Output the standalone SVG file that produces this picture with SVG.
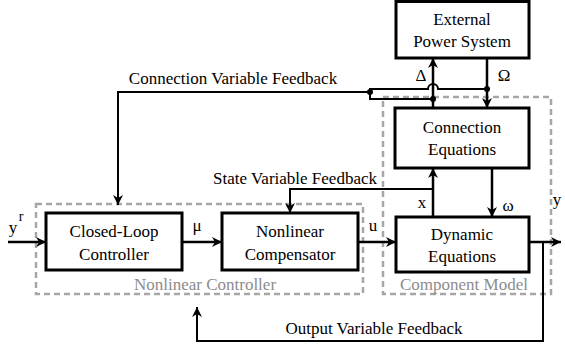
<svg xmlns="http://www.w3.org/2000/svg" width="565" height="350" viewBox="0 0 565 350">
<style>
.box{fill:#fff;stroke:#000;stroke-width:3}
.grp{fill:none;stroke:#a6a6a6;stroke-width:2.5;stroke-dasharray:6 4}
.t{font-family:"Liberation Serif","Times New Roman",serif;font-size:17px;fill:#000;text-anchor:middle}
.g{font-family:"Liberation Serif","Times New Roman",serif;font-size:17px;fill:#8c8c8c;text-anchor:middle}
.w{fill:none;stroke:#000;stroke-width:2.5}
.f{fill:none;stroke:#000;stroke-width:2}
.dot{fill:#000}
</style>
<defs>
<marker id="ah" viewBox="0 0 10 10" refX="10" refY="5" markerWidth="12" markerHeight="10" markerUnits="userSpaceOnUse" orient="auto">
<path d="M0,0 L10,5 L0,10 L3,5 z" fill="#000"/>
</marker>
</defs>
<rect width="565" height="350" fill="#fff"/>
<g id="groups">
<rect class="grp" x="36" y="204" width="327" height="90"/>
<rect class="grp" x="383" y="97" width="168" height="197"/>
<text class="g" x="205" y="290">Nonlinear Controller</text>
<text class="g" x="464" y="290">Component Model</text>
</g>
<g id="ext">
<rect class="box" x="396" y="1.5" width="133" height="56.5"/>
<text class="t" x="462" y="25">External</text>
<text class="t" x="462" y="47">Power System</text>
</g>
<g id="conn">
<rect class="box" x="395" y="108" width="134" height="60"/>
<text class="t" x="462" y="133">Connection</text>
<text class="t" x="462" y="155">Equations</text>
</g>
<g id="dyn">
<rect class="box" x="396" y="217" width="133" height="55"/>
<text class="t" x="462" y="240">Dynamic</text>
<text class="t" x="462" y="262">Equations</text>
</g>
<g id="clc">
<rect class="box" x="46" y="213" width="136" height="57"/>
<text class="t" x="114" y="237">Closed-Loop</text>
<text class="t" x="114" y="260">Controller</text>
</g>
<g id="nlc">
<rect class="box" x="222" y="213" width="136" height="57"/>
<text class="t" x="290" y="237">Nonlinear</text>
<text class="t" x="290" y="260">Compensator</text>
</g>
<g id="connectors">
<path class="w" d="M8,242 H46" marker-end="url(#ah)"/>
<path class="w" d="M182,242 H222" marker-end="url(#ah)"/>
<path class="w" d="M358,242 H396" marker-end="url(#ah)"/>
<path class="w" d="M529,242 H561" marker-end="url(#ah)"/>
<path class="f" d="M543,242 V341 H197 V307" marker-end="url(#ah)"/>
<path class="w" d="M433,217 V168" marker-end="url(#ah)"/>
<path class="w" d="M492,168 V217" marker-end="url(#ah)"/>
<path class="f" d="M433,189 H290 V213" marker-end="url(#ah)"/>
<path class="w" d="M433,108 V58" marker-end="url(#ah)"/>
<path class="w" d="M487,58 V108" marker-end="url(#ah)"/>
<path class="f" d="M487,89 H438 A5,5 0 0 0 428,89 H370 V99 H433"/>
<path class="f" d="M370,92 H118 V205" marker-end="url(#ah)"/>
<circle class="dot" cx="370" cy="92" r="3"/>
<circle class="dot" cx="433" cy="99" r="3"/>
<circle class="dot" cx="487" cy="89" r="3"/>
</g>
<g id="labels">
<text class="t" x="233" y="84">Connection Variable Feedback</text>
<text class="t" x="295" y="184">State Variable Feedback</text>
<text class="t" x="374" y="334">Output Variable Feedback</text>
<text class="t" x="421" y="81">Δ</text>
<text class="t" x="504" y="81">Ω</text>
<text class="t" x="422" y="208">x</text>
<text class="t" x="508" y="211">ω</text>
<text class="t" x="373" y="231">u</text>
<text class="t" x="197" y="231">μ</text>
<text class="t" x="557" y="205">y</text>
<text class="t" x="13" y="233">y</text>
<text class="t" x="21" y="221" style="font-size:14px">r</text>
</g>
</svg>
